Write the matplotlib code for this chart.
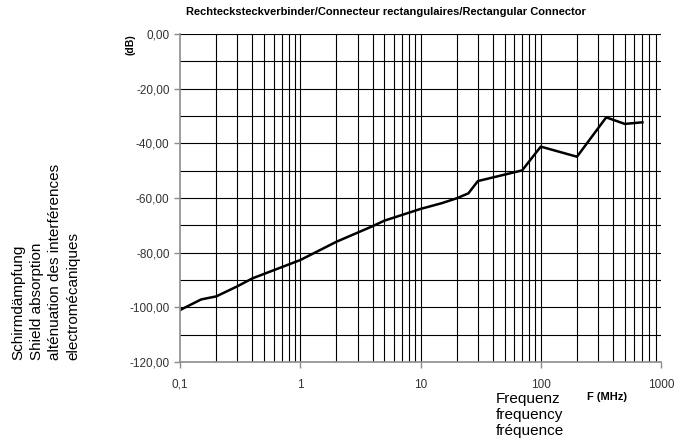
import matplotlib
matplotlib.use("Agg")
import matplotlib.pyplot as plt
from matplotlib.ticker import FixedLocator, FuncFormatter, NullFormatter

plt.rcParams['font.family'] = ['Liberation Sans', 'DejaVu Sans']

# Frequency (MHz) and shield attenuation (dB)
freq_mhz = [0.1, 0.15, 0.2, 0.3, 0.4, 1, 2, 4, 5, 10, 15, 20, 25, 30, 70, 100, 200, 350, 500, 700]
atten_db = [-101.0, -97.1, -96.0, -92.3, -89.4, -82.7, -76.0, -70.3, -68.3, -64.0,
            -61.9, -60.1, -58.3, -53.8, -49.9, -41.2, -44.9, -30.5, -32.9, -32.3]

x_ticks = [0.1, 1, 10, 100, 1000]
x_tick_labels = ["0,1", "1", "10", "100", "1000"]
y_ticks = [0, -20, -40, -60, -80, -100, -120]

title = "Rechtecksteckverbinder/Connecteur rectangulaires/Rectangular Connector"
ylabel_text = "Schirmdämpfung\nShield absorption\nalténuation des interférences\nelectromécaniques"
xlabel_text = "Frequenz\nfrequency\nfréquence"

fig = plt.figure(figsize=(6.86, 4.45), dpi=100)
ax = fig.add_axes([0.2624, 0.1865, 0.9636 - 0.2624, 0.9236 - 0.1865])

# grid: every minor/major log position, horizontal every 10 dB
minor_pos = [m * 10.0 ** e for e in range(-1, 3) for m in range(2, 11)]
for xv in minor_pos:
    if xv < 1000:
        ax.axvline(xv, color="black", lw=0.8, zorder=1)
for yv in range(-110, 1, 10):
    ax.axhline(yv, color="black", lw=0.8, zorder=1)

ax.plot(freq_mhz, atten_db, color="black", lw=1.8, zorder=3)

ax.set_xscale("log")
ax.set_xlim(0.1, 1000)
ax.set_ylim(-120, 0)

ax.xaxis.set_major_locator(FixedLocator(x_ticks))
ax.xaxis.set_major_formatter(FuncFormatter(lambda v, p: x_tick_labels[x_ticks.index(v)] if v in x_ticks else ""))
ax.xaxis.set_minor_locator(FixedLocator([]))
ax.xaxis.set_minor_formatter(NullFormatter())
ax.set_yticks(y_ticks)
ax.set_yticklabels([("%.2f" % v).replace(".", ",") for v in y_ticks])

for side in ["top", "right"]:
    ax.spines[side].set_visible(False)
for side in ["left", "bottom"]:
    ax.spines[side].set_color("#8c8c8c")
    ax.spines[side].set_linewidth(1.2)
    ax.spines[side].set_zorder(4)
ax.tick_params(axis="both", color="#8c8c8c", length=4, width=1, labelsize=8.5, labelcolor="#333333")
ax.tick_params(axis="x", pad=8)

fig.text(0.562, 0.985, title, ha="center", va="top", fontsize=8, fontweight="bold")
fig.text(0.19, 0.9, "(dB)", rotation=90, ha="center", va="center", fontsize=7.5, fontweight="bold")
fig.text(0.017, 0.19, ylabel_text, rotation=90, ha="left", va="bottom", fontsize=11,
         multialignment="left", linespacing=1.38)
fig.text(0.722, 0.015, xlabel_text, ha="left", va="bottom", fontsize=11, linespacing=1.2)
fig.text(0.855, 0.108, "F (MHz)", ha="left", va="center", fontsize=8, fontweight="bold")

fig.savefig("out.png", dpi=100)
